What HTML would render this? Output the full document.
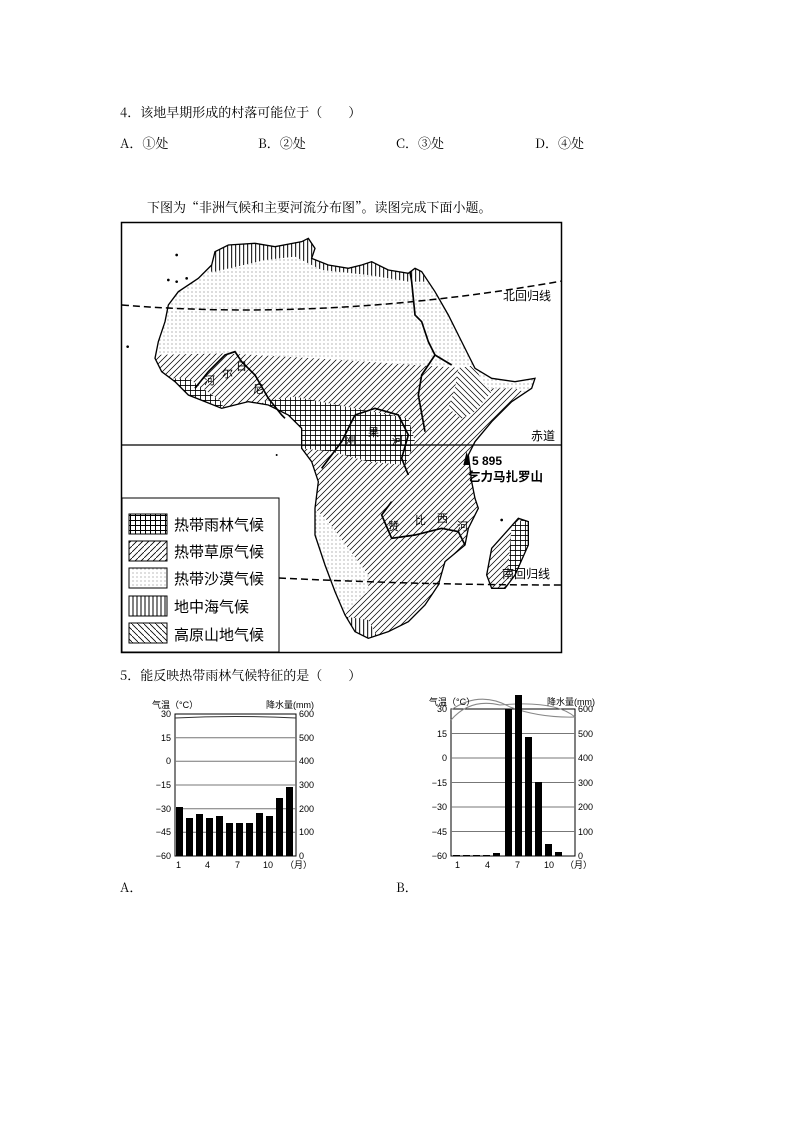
<!DOCTYPE html>
<html><head><meta charset="utf-8"><style>
body{margin:0;width:794px;height:1123px;background:#fff;position:relative;font-family:"Liberation Sans","Noto Sans CJK SC",sans-serif;color:#000}
.t{position:absolute;font-size:13px;white-space:nowrap;font-family:"Noto Serif CJK SC","Noto Sans CJK SC",serif}
</style></head><body>
<div class="t" style="left:120px;top:102px">4．该地早期形成的村落可能位于（　　）</div>
<div class="t" style="left:120px;top:133px">A．①处</div>
<div class="t" style="left:258px;top:133px">B．②处</div>
<div class="t" style="left:396px;top:133px">C．③处</div>
<div class="t" style="left:535px;top:133px">D．④处</div>
<div class="t" style="left:147px;top:197px">下图为“非洲气候和主要河流分布图”。读图完成下面小题。</div>
<div class="t" style="left:120px;top:665px">5．能反映热带雨林气候特征的是（　　）</div>
<div class="t" style="left:120px;top:877px">A．</div>
<div class="t" style="left:396px;top:877px">B．</div>

<svg width="794" height="1123" style="position:absolute;left:0;top:0" font-family="Liberation Sans, Noto Sans CJK SC, sans-serif">
<defs>
<pattern id="dots" patternUnits="userSpaceOnUse" width="12" height="12"><rect width="12" height="12" fill="#fff"/><circle cx="3" cy="3" r="1.6" fill="#555"/></pattern>
<pattern id="sav" patternUnits="userSpaceOnUse" width="18" height="18"><rect width="18" height="18" fill="#fff"/><path d="M-2,20 L20,-2 M-2,2 L2,-2 M16,20 L20,16" stroke="#000" stroke-width="2.2"/></pattern>
<pattern id="high" patternUnits="userSpaceOnUse" width="18" height="18"><rect width="18" height="18" fill="#fff"/><path d="M-2,-2 L20,20 M16,-2 L20,2 M-2,16 L2,20" stroke="#000" stroke-width="2.2"/></pattern>
<pattern id="grid" patternUnits="userSpaceOnUse" width="15" height="15"><rect width="15" height="15" fill="#fff"/><path d="M0,1 H15 M1,0 V15" stroke="#000" stroke-width="3"/></pattern>
<pattern id="vert" patternUnits="userSpaceOnUse" width="12" height="12"><rect width="12" height="12" fill="#fff"/><path d="M2,0 V12" stroke="#000" stroke-width="3"/></pattern>
<pattern id="ldots" patternUnits="userSpaceOnUse" width="4" height="4"><rect width="4" height="4" fill="#fff"/><circle cx="1" cy="1" r="0.5" fill="#555"/></pattern>
<pattern id="lsav" patternUnits="userSpaceOnUse" width="6" height="6"><rect width="6" height="6" fill="#fff"/><path d="M-1,7 L7,-1" stroke="#000" stroke-width="0.8"/></pattern>
<pattern id="lhigh" patternUnits="userSpaceOnUse" width="6" height="6"><rect width="6" height="6" fill="#fff"/><path d="M-1,-1 L7,7" stroke="#000" stroke-width="0.8"/></pattern>
<pattern id="lgrid" patternUnits="userSpaceOnUse" width="5" height="5"><rect width="5" height="5" fill="#fff"/><path d="M0,0.5 H5 M0.5,0 V5" stroke="#000" stroke-width="1"/></pattern>
<pattern id="lvert" patternUnits="userSpaceOnUse" width="4" height="4"><rect width="4" height="4" fill="#fff"/><path d="M1,0 V4" stroke="#000" stroke-width="1"/></pattern>
<clipPath id="afr"><path id="afrp" d="M290,150 L300,110 L340,90 L420,85 L480,95 L560,80 L580,70 L600,100 L590,130 L640,150 L700,160 L740,150 L770,140 L820,165 L880,175 L900,160 L920,170 L960,230 L1000,300 L1030,360 L1060,420 L1080,460 L1130,490 L1200,500 L1260,490 L1250,520 L1190,560 L1130,620 L1080,680 L1060,720 L1070,800 L1080,850 L1090,880 L1060,940 L1050,990 L990,1040 L970,1110 L930,1170 L880,1220 L820,1250 L760,1270 L720,1250 L690,1200 L660,1130 L630,1050 L600,960 L600,880 L610,800 L590,740 L560,700 L560,640 L520,600 L460,570 L400,560 L320,580 L270,560 L220,540 L180,500 L140,470 L120,430 L130,380 L150,320 L160,270 L190,230 L250,190 Z M1130,1000 L1210,910 L1240,920 L1240,990 L1200,1080 L1170,1120 L1130,1120 L1115,1080 Z"/></clipPath>
</defs>
<rect x="121.5" y="222.5" width="440" height="430" fill="#fff" stroke="#000" stroke-width="1.5"/>
<g transform="translate(115,215) scale(0.33333)">
<g clip-path="url(#afr)">
<rect x="0" y="0" width="1400" height="1400" fill="url(#sav)"/>
<path d="M100,0 L1300,0 L1300,560 L1200,520 L1100,520 L1060,460 L900,450 L600,430 L330,415 L100,420 Z" fill="url(#dots)"/>
<path d="M280,170 L290,80 L600,50 L610,130 L760,130 L920,150 L930,200 L880,200 L760,180 L620,165 L540,125 L450,135 L300,170 Z" fill="url(#vert)"/>
<path d="M600,880 L640,920 L700,1000 L760,1080 L760,1130 L720,1160 L690,1200 L650,1100 L600,960 Z" fill="url(#dots)"/>
<path d="M1080,680 L1190,560 L1300,560 L1300,700 Z" fill="url(#dots)"/>
<path d="M690,1205 L760,1215 L790,1270 L700,1270 Z" fill="url(#vert)"/>
<path d="M130,490 L220,490 L320,560 L330,600 L240,600 L180,560 L130,520 Z" fill="url(#grid)"/>
<path d="M440,560 L540,545 L720,580 L880,610 L900,680 L870,750 L760,740 L650,710 L560,700 L540,650 L500,610 Z" fill="url(#grid)"/>
<path d="M1030,460 L1080,450 L1100,500 L1130,530 L1080,590 L1040,610 L1000,580 L1020,520 Z" fill="url(#high)"/>
<path d="M1190,930 L1250,900 L1250,1000 L1200,1080 L1180,1060 Z" fill="url(#grid)"/>
</g>
<use href="#afrp" fill="none" stroke="#000" stroke-width="4"/>
<g fill="none" stroke="#000" stroke-width="5">
<path d="M1010,450 L960,420 L940,380 L920,320 L900,300 L895,250 L890,200 L885,170"/>
<path d="M960,420 L920,480 L910,540 L930,650"/>
<path d="M240,520 L280,470 L330,420 L360,410 L380,440 L420,480 L460,550 L500,600 L510,610"/>
<path d="M720,600 L780,580 L850,600 L880,660 L860,730 L880,780 M720,600 L680,680 L650,720 L620,760"/>
<path d="M830,860 L800,900 L830,970 L900,960 L980,940 L1030,950 L1050,990"/>
</g>
<g fill="#000"><circle cx="185" cy="120" r="4"/><circle cx="160" cy="195" r="4"/><circle cx="185" cy="200" r="4"/><circle cx="215" cy="190" r="4"/><circle cx="38" cy="395" r="4"/><circle cx="485" cy="720" r="3"/><circle cx="1160" cy="915" r="4"/><path d="M1045,750 L1055,710 L1065,750 Z"/></g>
</g>
<g stroke="#000" stroke-width="1.5" stroke-dasharray="7,4" fill="none">
<path d="M122,305 Q330,322 562,281"/>
<path d="M279,578 Q420,585 562,585"/>
</g>
<line x1="122" y1="445" x2="562" y2="445" stroke="#000" stroke-width="1.2"/>
<g font-size="12">
<text x="503" y="300">北回归线</text>
<text x="531" y="440">赤道</text>
<text x="502" y="578">南回归线</text>
<text x="472" y="465" font-weight="bold">5 895</text>
<text x="468" y="481" font-weight="bold" font-size="12.5">乞力马扎罗山</text>
<text x="204" y="384" font-size="11">河</text><text x="222" y="377" font-size="11">尔</text><text x="236" y="370" font-size="11">日</text><text x="253" y="393" font-size="11">尼</text>
<text x="345" y="444" font-size="11">刚</text><text x="368" y="436" font-size="11">果</text><text x="392" y="444" font-size="11">河</text>
<text x="388" y="530" font-size="11">赞</text><text x="415" y="524" font-size="11">比</text><text x="437" y="522" font-size="11">西</text><text x="457" y="530" font-size="11">河</text>
</g>
<rect x="122" y="498" width="157" height="154" fill="#fff" stroke="#000" stroke-width="1"/>
<g stroke="#000" stroke-width="1">
<rect x="129" y="514" width="38" height="20" fill="url(#lgrid)"/>
<rect x="129" y="541" width="38" height="20" fill="url(#lsav)"/>
<rect x="129" y="568" width="38" height="20" fill="url(#ldots)"/>
<rect x="129" y="596" width="38" height="20" fill="url(#lvert)"/>
<rect x="129" y="623" width="38" height="20" fill="url(#lhigh)"/>
</g>
<g font-size="15"><text x="174" y="530">热带雨林气候</text><text x="174" y="557">热带草原气候</text><text x="174" y="584">热带沙漠气候</text><text x="174" y="612">地中海气候</text><text x="174" y="640">高原山地气候</text></g>

<g font-size="9" fill="#000">
<rect x="175" y="714" width="121" height="142" fill="none" stroke="#000"/>
<g stroke="#777"><line x1="175" y1="737.7" x2="296" y2="737.7"/><line x1="175" y1="761.3" x2="296" y2="761.3"/><line x1="175" y1="785" x2="296" y2="785"/><line x1="175" y1="808.7" x2="296" y2="808.7"/><line x1="175" y1="832.3" x2="296" y2="832.3"/></g>
<path d="M175,718 Q235,715 296,718" stroke="#333" fill="none"/>
<g fill="#000">
<rect x="176" y="807" width="7" height="49"/><rect x="186" y="818" width="7" height="38"/><rect x="196" y="814" width="7" height="42"/><rect x="206" y="818" width="7" height="38"/><rect x="216" y="816" width="7" height="40"/><rect x="226" y="823" width="7" height="33"/><rect x="236" y="823" width="7" height="33"/><rect x="246" y="823" width="7" height="33"/><rect x="256" y="813" width="7" height="43"/><rect x="266" y="816" width="7" height="40"/><rect x="276" y="798" width="7" height="58"/><rect x="286" y="787" width="7" height="69"/>
</g>
<g text-anchor="end"><text x="171" y="717">30</text><text x="171" y="741">15</text><text x="171" y="764">0</text><text x="171" y="788">−15</text><text x="171" y="812">−30</text><text x="171" y="835">−45</text><text x="171" y="859">−60</text></g>
<g><text x="299" y="717">600</text><text x="299" y="741">500</text><text x="299" y="764">400</text><text x="299" y="788">300</text><text x="299" y="812">200</text><text x="299" y="835">100</text><text x="299" y="859">0</text></g>
<text x="152" y="708">气温（°C）</text><text x="266" y="708">降水量(mm)</text>
<text x="176" y="868">1</text><text x="205" y="868">4</text><text x="235" y="868">7</text><text x="263" y="868">10</text><text x="285" y="868">（月）</text>
</g>

<g font-size="9" fill="#000">
<rect x="451" y="709" width="124" height="147" fill="none" stroke="#000"/>
<g stroke="#777"><line x1="451" y1="733.5" x2="575" y2="733.5"/><line x1="451" y1="758" x2="575" y2="758"/><line x1="451" y1="782.5" x2="575" y2="782.5"/><line x1="451" y1="807" x2="575" y2="807"/><line x1="451" y1="831.5" x2="575" y2="831.5"/></g>
<path d="M451,710 Q480,690 510,707 Q540,718 575,717" stroke="#888" fill="none"/>
<path d="M451,720 Q470,698 500,705 Q555,700 575,717" stroke="#888" fill="none"/>
<g fill="#000">
<rect x="453" y="855" width="7" height="1"/><rect x="463" y="855" width="7" height="1"/><rect x="473" y="855" width="7" height="1"/><rect x="483" y="855" width="7" height="1"/><rect x="493" y="853" width="7" height="3"/><rect x="505" y="709" width="7" height="147"/><rect x="515" y="695" width="7" height="161"/><rect x="525" y="737" width="7" height="119"/><rect x="535" y="782" width="7" height="74"/><rect x="545" y="844" width="7" height="12"/><rect x="555" y="852" width="7" height="4"/>
</g>
<g text-anchor="end"><text x="447" y="712">30</text><text x="447" y="737">15</text><text x="447" y="761">0</text><text x="447" y="786">−15</text><text x="447" y="810">−30</text><text x="447" y="835">−45</text><text x="447" y="859">−60</text></g>
<g><text x="578" y="712">600</text><text x="578" y="737">500</text><text x="578" y="761">400</text><text x="578" y="786">300</text><text x="578" y="810">200</text><text x="578" y="835">100</text><text x="578" y="859">0</text></g>
<text x="429" y="705">气温（°C）</text><text x="547" y="705">降水量(mm)</text>
<text x="455" y="868">1</text><text x="485" y="868">4</text><text x="515" y="868">7</text><text x="544" y="868">10</text><text x="565" y="868">（月）</text>
</g>
</svg>
</body></html>
